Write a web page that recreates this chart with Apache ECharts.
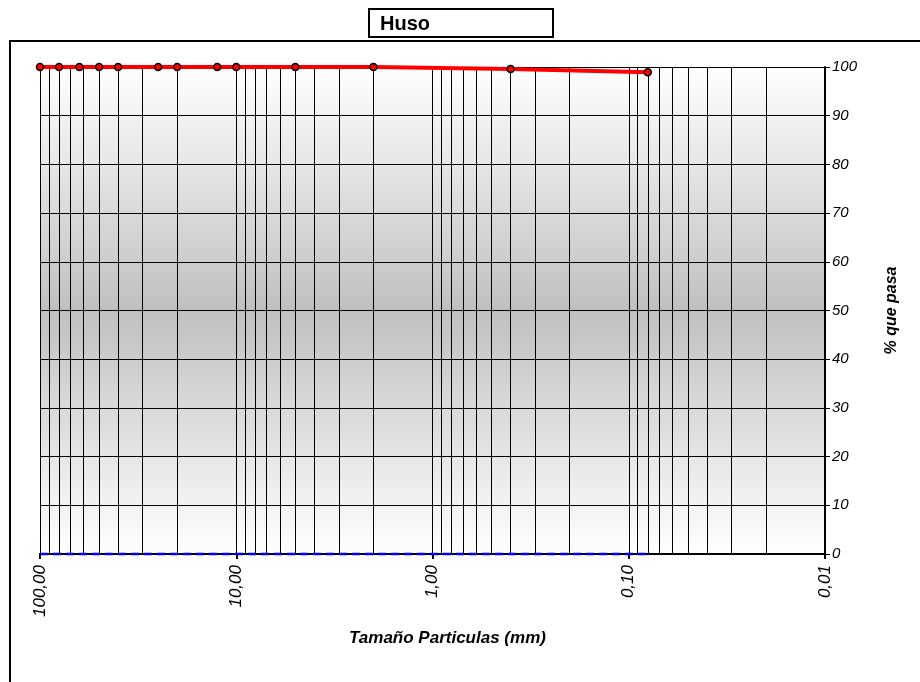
<!DOCTYPE html>
<html>
<head>
<meta charset="utf-8">
<script src="https://cdn.jsdelivr.net/npm/echarts@6/dist/echarts.min.js"></script>
<style>
html,body{margin:0;padding:0;background:#fff;}
#chart{width:920px;height:682px;}
</style>
</head>
<body>
<div id="chart"></div>
<script>
// Data
const sizes = [100, 80, 63, 50, 40, 25, 20, 12.5, 10, 5, 2, 0.4, 0.08];
const pasa = [100, 100, 100, 100, 100, 100, 100, 100, 100, 100, 100, 99.6, 98.9];
const husoInf = [0, 0, 0, 0, 0, 0, 0, 0, 0, 0, 0, 0, 0];
const decades = [0.01, 0.1, 1, 10];
const minorMultipliers = [2, 3, 4, 5, 6, 7, 8, 9];
const xTickLabels = {'-2': '0,01', '-1': '0,10', '0': '1,00', '1': '10,00', '2': '100,00'};
const titleText = 'Huso';
const xName = 'Tamaño Particulas (mm)';
const yName = '% que pasa';

const font = '"Liberation Sans", Arial, sans-serif';
const minorLines = [];
decades.forEach(d => minorMultipliers.forEach(m => minorLines.push({ xAxis: +(d * m).toPrecision(6) })));

const chart = echarts.init(document.getElementById('chart'));
chart.setOption({
  animation: false,
  backgroundColor: '#fff',
  graphic: [
    { type: 'rect', shape: { x: 10, y: 41, width: 930, height: 700 },
      style: { fill: 'none', stroke: '#000', lineWidth: 2 }, z: 100 },
    { type: 'rect', shape: { x: 369, y: 9, width: 184, height: 28 },
      style: { fill: '#fff', stroke: '#000', lineWidth: 2 }, z: 100 },
    { type: 'text', x: 380, y: 24, z: 101,
      style: { text: titleText, fill: '#000', font: 'bold 20px ' + font, verticalAlign: 'middle' } }
  ],
  grid: {
    left: 40, right: 95, top: 67, bottom: 128, show: true, borderWidth: 0,
    backgroundColor: new echarts.graphic.LinearGradient(0, 0, 0, 1, [
      { offset: 0, color: '#ffffff' },
      { offset: 0.5, color: '#c0c0c0' },
      { offset: 1, color: '#ffffff' }
    ])
  },
  xAxis: {
    type: 'log', logBase: 10, min: 0.01, max: 100, inverse: true,
    name: xName, nameLocation: 'middle', nameGap: 76,
    nameTextStyle: { fontFamily: font, fontSize: 17, fontWeight: 'bold', fontStyle: 'italic', color: '#000',
      padding: [0, 0, 0, 30] },
    axisLine: { show: true, onZero: false, lineStyle: { color: '#000', width: 2 } },
    axisTick: { show: true, inside: false, length: 5, lineStyle: { color: '#000', width: 2 } },
    axisLabel: {
      rotate: 90, margin: 11, color: '#000', fontFamily: font, fontSize: 17, fontStyle: 'italic',
      formatter: v => xTickLabels[String(Math.round(Math.log10(v)))] || ''
    },
    splitLine: { show: true, lineStyle: { color: '#000', width: 1 } },
    minorTick: { show: false }, minorSplitLine: { show: false }
  },
  yAxis: {
    type: 'value', position: 'right', min: 0, max: 100, interval: 10,
    name: yName, nameLocation: 'middle', nameGap: 59, nameRotate: 90,
    nameTextStyle: { fontFamily: font, fontSize: 16, fontWeight: 'bold', fontStyle: 'italic', color: '#000' },
    axisLine: { show: true, lineStyle: { color: '#000', width: 2 } },
    axisTick: { show: true, inside: false, length: 5, lineStyle: { color: '#000', width: 1 } },
    axisLabel: { margin: 7, color: '#000', fontFamily: font, fontSize: 15, fontStyle: 'italic' },
    splitLine: { show: true, lineStyle: { color: '#000', width: 1 } }
  },
  series: [
    {
      name: 'grid', type: 'line', data: [], silent: true,
      markLine: {
        silent: true, symbol: ['none', 'none'], label: { show: false },
        lineStyle: { color: '#000', width: 1, type: 'solid' },
        emphasis: { disabled: true },
        data: minorLines
      }
    },
    {
      name: 'Huso inferior', type: 'line', showSymbol: false, clip: false,
      data: sizes.map((s, i) => [s, husoInf[i]]),
      lineStyle: { color: '#0000ff', width: 2.5, type: [8, 5] }, z: 5
    },
    {
      name: '% que pasa', type: 'line', clip: false,
      data: sizes.map((s, i) => [s, pasa[i]]),
      symbol: 'circle', symbolSize: 7,
      lineStyle: { color: '#ff0000', width: 4 },
      itemStyle: { color: '#ff0000', borderColor: '#000', borderWidth: 1.5 }, z: 6
    }
  ]
});
</script>
</body>
</html>
